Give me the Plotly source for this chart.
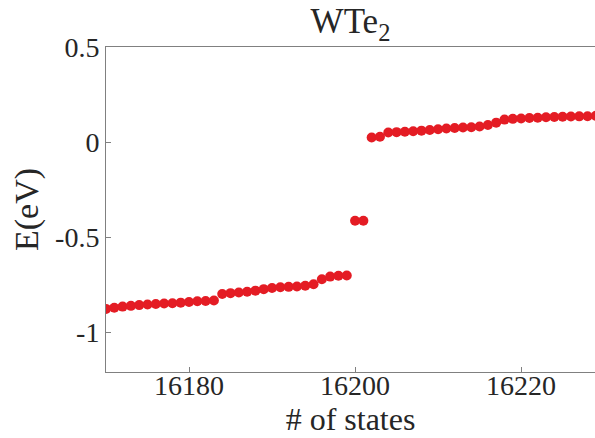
import plotly.graph_objects as go

states = list(range(16170, 16230))
energy = [
    -0.878, -0.872, -0.866, -0.862, -0.858, -0.855, -0.852, -0.850, -0.848, -0.845,
    -0.842, -0.838, -0.836, -0.834, -0.800, -0.795, -0.792, -0.788, -0.782, -0.774,
    -0.768, -0.764, -0.762, -0.760, -0.756, -0.748, -0.722, -0.708, -0.704, -0.702,
    -0.414, -0.414, 0.024, 0.028, 0.050, 0.052, 0.054, 0.057, 0.060, 0.063,
    0.067, 0.071, 0.074, 0.076, 0.078, 0.082, 0.090, 0.102, 0.118, 0.122,
    0.124, 0.126, 0.128, 0.130, 0.132, 0.133, 0.134, 0.135, 0.136, 0.138,
]
x_ticks = [16180, 16200, 16220]
x_labels = ["16180", "16200", "16220"]
y_ticks = [0.5, 0, -0.5, -1]
y_labels = ["0.5", "0", "-0.5", "-1"]

font = "Liberation Serif"
txt = "#262626"
axc = "#808080"

fig = go.Figure(go.Scatter(
    x=states, y=energy, mode="markers",
    marker=dict(size=10, color="rgb(228,28,36)", line=dict(width=0)),
    showlegend=False,
))

fig.update_layout(
    width=595, height=438,
    margin=dict(l=106, r=0, t=47, b=66),
    paper_bgcolor="white", plot_bgcolor="white",
    font=dict(family=font, color=txt, size=28),
    title=dict(text="WTe<sub>2</sub>", x=0.5, xanchor="center", xref="paper",
               y=1 - 21 / 438, yanchor="middle", font=dict(size=35, family=font, color=txt)),
)
fig.update_xaxes(
    range=[16170, 16228.9], tickvals=x_ticks, ticktext=x_labels, ticks="inside", ticklen=5,
    tickcolor=axc, showline=True, linecolor=axc, linewidth=1, mirror=True,
    showgrid=False, zeroline=False, ticklabelstandoff=-12,
    tickfont=dict(size=28, family=font, color=txt),
    title=dict(text="# of states", font=dict(size=32, family=font, color=txt), standoff=0),
)
fig.update_yaxes(
    range=[-1.21, 0.5], tickvals=y_ticks, ticktext=y_labels, ticks="inside", ticklen=5,
    tickcolor=axc, showline=True, linecolor=axc, linewidth=1, mirror=False,
    showgrid=False, zeroline=False,
    tickfont=dict(size=28, family=font, color=txt),
    title=dict(text="E(eV)", font=dict(size=34, family=font, color=txt), standoff=6),
)

fig.write_html("out.html")
